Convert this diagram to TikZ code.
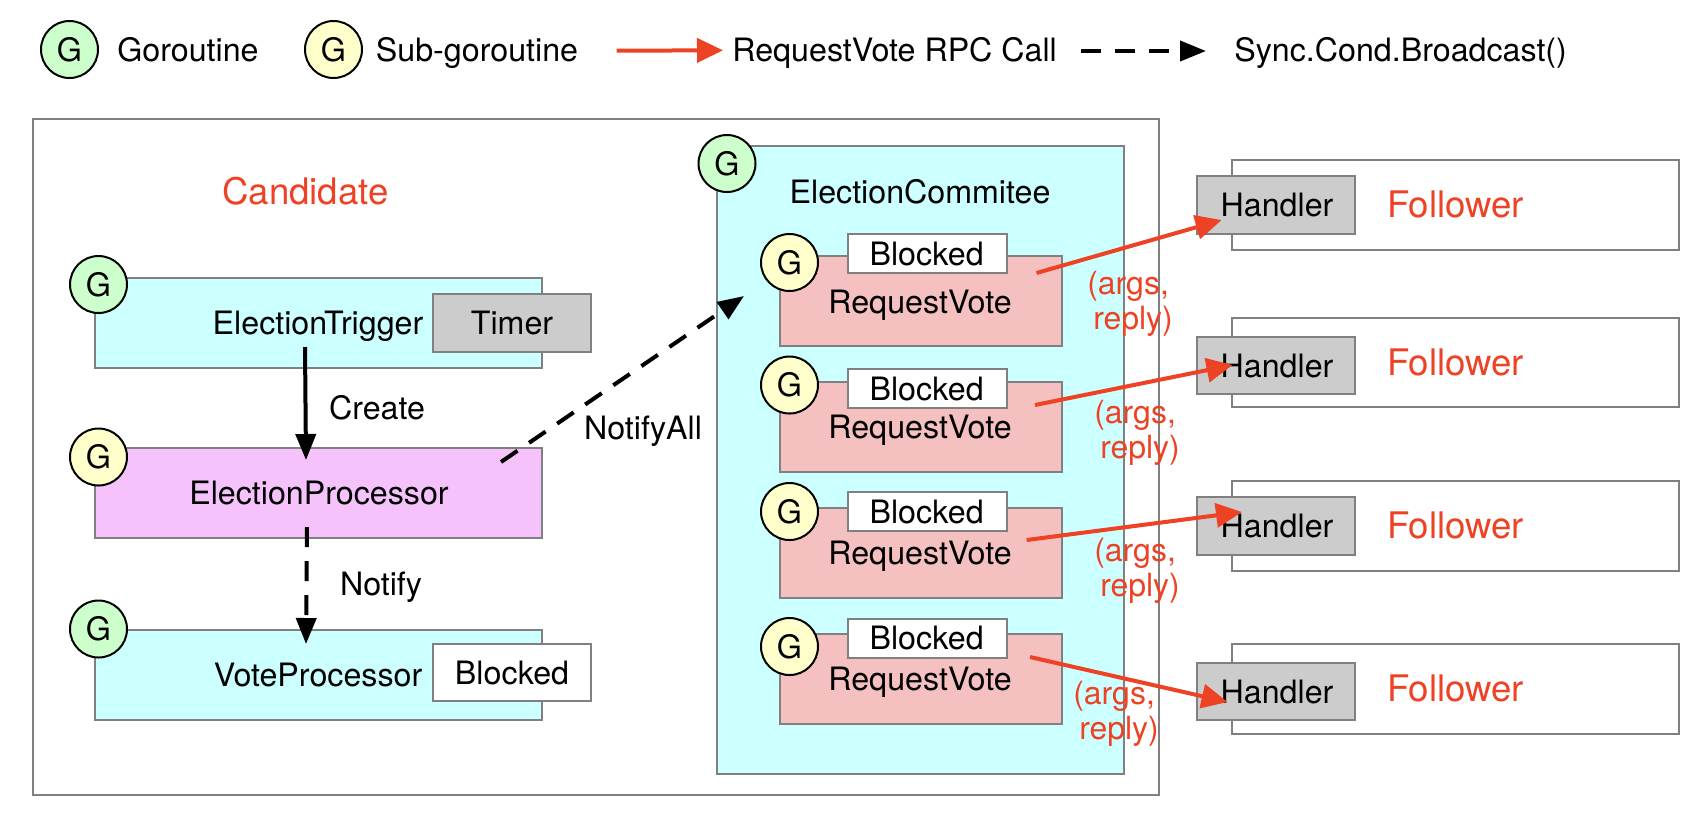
\documentclass[tikz,border=0pt]{standalone}
\usepackage{fontspec}
\setmainfont{TeX Gyre Heros}
\usetikzlibrary{arrows.meta}
\definecolor{redc}{HTML}{EE4225}
\definecolor{strokec}{HTML}{808080}
\definecolor{cyanc}{HTML}{CCFFFF}
\definecolor{pinkc}{HTML}{F5C0C0}
\definecolor{purplec}{HTML}{F5C2FB}
\definecolor{greyc}{HTML}{CCCCCC}
\definecolor{greenc}{HTML}{CCFFCC}
\definecolor{yellowc}{HTML}{FFFFCC}
\newcommand{\gtxt}{\raisebox{-1pt}{G}}
\tikzset{
  x=0.5pt,y=-0.5pt,
  every node/.style={inner sep=0pt,outer sep=0pt},
  boxshape/.style={rectangle,draw=strokec,line width=1pt},
  plainbox/.style={boxshape,fill=white},
  cyanbox/.style={boxshape,fill=cyanc},
  pinkbox/.style={boxshape,fill=pinkc},
  purplebox/.style={boxshape,fill=purplec},
  greybox/.style={boxshape,fill=greyc},
  gbase/.style={circle,draw=black,line width=1pt,minimum size=28.5pt,font=\fontsize{16.1}{19}\selectfont},
  ggreen/.style={gbase,fill=greenc},
  gyellow/.style={gbase,fill=yellowc},
  lab/.style={anchor=base,yshift=-0.5pt,font=\fontsize{16.1}{19}\selectfont},
  redbig/.style={anchor=base,yshift=-0.5pt,text=redc,font=\fontsize{18.3}{22}\selectfont},
  argslab/.style={text=redc,align=left,font=\fontsize{16}{17.5}\selectfont},
  blackarrow/.style={draw=black,line width=2pt,-{Triangle[length=13pt,width=10pt]}},
  dasharrow/.style={blackarrow,dash pattern=on 10pt off 7pt},
  redarrow/.style={draw=redc,line width=2pt,-{Triangle[length=13pt,width=12pt]}},
}
\newcommand{\bx}[6]{\node[#2,minimum width={(#5-#3)*0.5pt},minimum height={(#6-#4)*0.5pt}] (#1) at ({(#3+#5)/2},{(#4+#6)/2}) {};}
\begin{document}
\begin{tikzpicture}
\useasboundingbox (0,0) rectangle (1708,816);
% Legend
\node[ggreen] (lgG) at (69.5,49.5) {\gtxt};
\node[lab] (lgGt) at (188,60.7) {Goroutine};
\node[gyellow] (lgS) at (333.5,49.5) {\gtxt};
\node[lab] (lgSt) at (477,60.7) {Sub-goroutine};
\coordinate (lgRa) at (616.5,50.7);
\coordinate (lgRb) at (723,50.3);
\draw[redarrow] (lgRa) -- (lgRb);
\node[lab] (lgRt) at (894.6,60.7) {RequestVote RPC Call};
\coordinate (lgDa) at (1081,51);
\coordinate (lgDb) at (1206,51);
\draw[dasharrow] (lgDa) -- (lgDb);
\node[lab] (lgDt) at (1400.6,60.7) {Sync.Cond.Broadcast()};
% Candidate
\bx{cand}{plainbox}{33}{119}{1159}{795}
\node[redbig] (candt) at (305.5,203) {Candidate};
% Election committee
\bx{comm}{cyanbox}{717}{146}{1124}{774}
\node[ggreen] (commG) at (727,163.5) {\gtxt};
\node[lab] (commt) at (920,202) {ElectionCommitee};
% Left column
\bx{trig}{cyanbox}{95}{278}{542}{368}
\node[ggreen] (trigG) at (98.5,284.5) {\gtxt};
\node[lab] (trigt) at (318,333) {ElectionTrigger};
\bx{timer}{greybox}{433}{294}{591}{352}
\node[lab] (timert) at (512,333) {Timer};
\bx{proc}{purplebox}{95}{448}{542}{538}
\node[gyellow] (procG) at (98.5,457) {\gtxt};
\node[lab] (proct) at (319,503) {ElectionProcessor};
\bx{vote}{cyanbox}{95}{630}{542}{720}
\node[ggreen] (voteG) at (98.5,629) {\gtxt};
\node[lab] (votet) at (318,685) {VoteProcessor};
\bx{voteb}{plainbox}{433}{644}{591}{701}
\node[lab] (votebt) at (512,683) {Blocked};
% RequestVote boxes
\bx{rvA}{pinkbox}{779.5}{256}{1061.5}{346}
\bx{rvB}{pinkbox}{779.5}{382}{1061.5}{472}
\bx{rvC}{pinkbox}{779.5}{508}{1061.5}{598}
\bx{rvD}{pinkbox}{779.5}{634}{1061.5}{724}
\bx{blA}{plainbox}{848}{234}{1006.5}{273}
\bx{blB}{plainbox}{848}{369}{1006.5}{408}
\bx{blC}{plainbox}{848}{492}{1006.5}{531}
\bx{blD}{plainbox}{848}{619}{1006.5}{658}
\node[gyellow] (gA) at (789.5,262.5) {\gtxt};
\node[gyellow] (gB) at (789.5,385) {\gtxt};
\node[gyellow] (gC) at (789.5,511.5) {\gtxt};
\node[gyellow] (gD) at (789.5,646.5) {\gtxt};
\node[lab] (blAt) at (926.6,264) {Blocked};
\node[lab] (blBt) at (926.6,399) {Blocked};
\node[lab] (blCt) at (926.6,522) {Blocked};
\node[lab] (blDt) at (926.6,648) {Blocked};
\node[lab] (rvAt) at (920,312) {RequestVote};
\node[lab] (rvBt) at (920,437) {RequestVote};
\node[lab] (rvCt) at (920,563) {RequestVote};
\node[lab] (rvDt) at (920,689) {RequestVote};
% Followers
\bx{fA}{plainbox}{1232}{160}{1679}{250}
\bx{fB}{plainbox}{1232}{318}{1679}{407}
\bx{fC}{plainbox}{1232}{481}{1679}{571}
\bx{fD}{plainbox}{1232}{644}{1679}{734}
\bx{hA}{greybox}{1197}{176}{1355}{234}
\bx{hB}{greybox}{1197}{337}{1355}{394}
\bx{hC}{greybox}{1197}{497}{1355}{555}
\bx{hD}{greybox}{1197}{663}{1355}{720}
\node[lab] (hAt) at (1277,215) {Handler};
\node[lab] (hBt) at (1277,376) {Handler};
\node[lab] (hCt) at (1277,536) {Handler};
\node[lab] (hDt) at (1277,702) {Handler};
\node[redbig] (fAt) at (1455.5,216) {Follower};
\node[redbig] (fBt) at (1455.5,374) {Follower};
\node[redbig] (fCt) at (1455.5,537) {Follower};
\node[redbig] (fDt) at (1455.5,700) {Follower};
% Labels
\node[lab] (createt) at (377,418) {Create};
\node[lab] (notifyt) at (381,594) {Notify};
\node[lab] (notifyallt) at (643,438) {NotifyAll};
\node[argslab] (aA) at (1130,304) {(args,\\\hspace*{3pt}reply)};
\node[argslab] (aB) at (1137,433) {(args,\\\hspace*{3pt}reply)};
\node[argslab] (aC) at (1137,571) {(args,\\\hspace*{3pt}reply)};
\node[argslab] (aD) at (1116,714) {(args,\\\hspace*{3pt}reply)};
% Connector ends
\coordinate (c1a) at (305,347);
\coordinate (c1b) at (306,460);
\coordinate (c2a) at (307,527);
\coordinate (c2b) at (306,644);
\coordinate (c3a) at (501,462);
\coordinate (c3b) at (744,296);
\coordinate (r1a) at (1036.5,273);
\coordinate (r1b) at (1221.6,220);
\coordinate (r2a) at (1035,405);
\coordinate (r2b) at (1232.5,365);
\coordinate (r3a) at (1026.7,540);
\coordinate (r3b) at (1242,512);
\coordinate (r4a) at (1030,657);
\coordinate (r4b) at (1227.6,702);
\draw[blackarrow] (c1a) -- (c1b);
\draw[dasharrow] (c2a) -- (c2b);
\draw[dasharrow] (c3a) -- (c3b);
\draw[redarrow] (r1a) -- (r1b);
\draw[redarrow] (r2a) -- (r2b);
\draw[redarrow] (r3a) -- (r3b);
\draw[redarrow] (r4a) -- (r4b);
\end{tikzpicture}
\end{document}
